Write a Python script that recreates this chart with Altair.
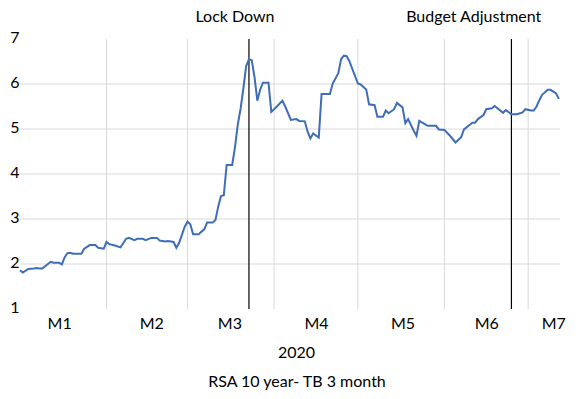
import altair as alt
import pandas as pd

# ---- data (day 0 = 1 Jan 2020) ----
days = [0, 1, 3, 5, 6, 7, 8, 10, 11, 12, 14, 15, 16, 17, 18, 19, 22, 23, 25, 27,
        28, 30, 31, 32, 34, 36, 38, 39, 41, 42, 44, 45, 47, 49, 50, 52, 53, 55, 56, 57,
        59, 60, 61, 62, 64, 65, 66, 67, 69, 70, 71, 72, 73, 74, 76, 77, 78, 79, 80, 81,
        82, 83, 84, 85, 86, 87, 89, 90, 92, 94, 95, 97, 99, 100, 102, 103, 104, 105, 107, 108,
        111, 112, 114, 115, 116, 117, 118, 121, 122, 124, 125, 127, 128, 130, 131, 132, 134, 135, 137, 138,
        139, 141, 142, 143, 145, 146, 149, 150, 152, 154, 156, 158, 159, 161, 162, 163, 164, 166, 167, 169,
        170, 171, 173, 174, 176, 178, 180, 181, 183, 184, 185, 186, 187, 189, 190, 192, 193]
values = [1.86, 1.81, 1.89, 1.90, 1.91, 1.90, 1.90, 2.00, 2.05, 2.03, 2.03, 1.99, 2.15, 2.24, 2.25, 2.23, 2.23, 2.34, 2.42, 2.42,
          2.36, 2.34, 2.49, 2.44, 2.41, 2.37, 2.56, 2.58, 2.53, 2.56, 2.56, 2.53, 2.58, 2.58, 2.52, 2.50, 2.51, 2.49, 2.36, 2.47,
          2.83, 2.94, 2.88, 2.66, 2.66, 2.72, 2.77, 2.92, 2.92, 2.98, 3.28, 3.51, 3.53, 4.20, 4.20, 4.60, 5.10, 5.45, 5.90, 6.40,
          6.55, 6.53, 6.15, 5.63, 5.87, 6.03, 6.03, 5.38, 5.50, 5.63, 5.50, 5.20, 5.22, 5.18, 5.17, 4.94, 4.79, 4.90, 4.81, 5.78,
          5.78, 6.01, 6.24, 6.55, 6.63, 6.62, 6.50, 6.01, 5.99, 5.88, 5.55, 5.53, 5.27, 5.27, 5.41, 5.35, 5.44, 5.58, 5.48, 5.13,
          5.22, 4.96, 4.85, 5.18, 5.11, 5.07, 5.07, 4.99, 4.98, 4.85, 4.70, 4.82, 4.99, 5.09, 5.14, 5.14, 5.22, 5.31, 5.44, 5.46,
          5.51, 5.46, 5.36, 5.42, 5.33, 5.33, 5.37, 5.44, 5.41, 5.41, 5.50, 5.64, 5.76, 5.87, 5.87, 5.79, 5.67]

month_start_days = [31, 60, 91, 121, 152, 182]
month_label_days = [14, 47, 75, 106, 137, 167, 191]
month_labels = ["M1", "M2", "M3", "M4", "M5", "M6", "M7"]
y_ticks = [1, 2, 3, 4, 5, 6, 7]
y_grid = [2, 3, 4, 5, 6]
event_days = [82, 176]
event_labels = ["Lock Down", "Budget Adjustment"]
event_label_days = [77, 162.5]
x_title = "2020"
chart_title = ["RSA 10 year- TB 3 month"]

FONT = "Lato"
FS = 16
LINE_COLOR = "#3F6DB8"
GRID_COLOR = "#D9D9D9"

series = pd.DataFrame({"day": days, "value": values})
vgrid = pd.DataFrame({"day": month_start_days})
hgrid = pd.DataFrame({"value": y_grid})
events = pd.DataFrame({"day": event_days})
event_text = pd.DataFrame({"day": event_label_days, "label": event_labels})
title_df = pd.DataFrame({"label": chart_title})

x_scale = alt.Scale(domain=[0, 193.4], nice=False, zero=False)
y_scale = alt.Scale(domain=[1, 7], nice=False, zero=False)

label_expr = "[" + ",".join("'%s'" % m for m in month_labels) + "][indexof([" + \
    ",".join(str(d) for d in month_label_days) + "], datum.value)]"

x_axis = alt.Axis(
    values=month_label_days, labelExpr=label_expr, grid=False, ticks=False, tickSize=0,
    domain=False, labelFlush=False, labelBaseline="alphabetic", labelPadding=19,
    labelFont=FONT, labelFontSize=FS, labelColor="black",
    title=x_title, titleFont=FONT, titleFontSize=FS, titleFontWeight="normal",
    titleColor="black", titleBaseline="alphabetic", titleAlign="center",
    titleX=276, titleY=48,
)
y_axis = alt.Axis(
    values=y_ticks, grid=False, ticks=False, tickSize=0, domain=False,
    labelPadding=1, labelOffset=-2, labelFont=FONT, labelFontSize=FS,
    labelColor="black", title=None,
)

hgrid_layer = alt.Chart(hgrid).mark_rule(color=GRID_COLOR, strokeWidth=1).encode(
    y=alt.Y("value:Q", scale=y_scale, axis=y_axis)
)
vgrid_layer = alt.Chart(vgrid).mark_rule(color=GRID_COLOR, strokeWidth=1).encode(
    x=alt.X("day:Q", scale=x_scale, axis=x_axis)
)
event_layer = alt.Chart(events).mark_rule(color="black", strokeWidth=1.2).encode(
    x=alt.X("day:Q", scale=x_scale)
)
line_layer = alt.Chart(series).mark_line(color=LINE_COLOR, strokeWidth=2).encode(
    x=alt.X("day:Q", scale=x_scale),
    y=alt.Y("value:Q", scale=y_scale),
)
text_layer = alt.Chart(event_text).mark_text(
    font=FONT, fontSize=FS, color="black", baseline="alphabetic", align="center"
).encode(
    x=alt.X("day:Q", scale=x_scale),
    y=alt.value(-17),
    text="label:N",
)
title_layer = alt.Chart(title_df).mark_text(
    font=FONT, fontSize=FS, color="black", baseline="alphabetic", align="center"
).encode(
    x=alt.value(277),
    y=alt.value(348),
    text="label:N",
)

chart = alt.layer(hgrid_layer, vgrid_layer, event_layer, line_layer, text_layer, title_layer).properties(
    width=540,
    height=270,
    autosize=alt.AutoSizeParams(type="none"),
    padding={"left": 12, "top": 31, "right": 14, "bottom": 82},
).configure_view(stroke=None)

chart.save("out.html", embed_options={"renderer": "svg", "actions": False})
